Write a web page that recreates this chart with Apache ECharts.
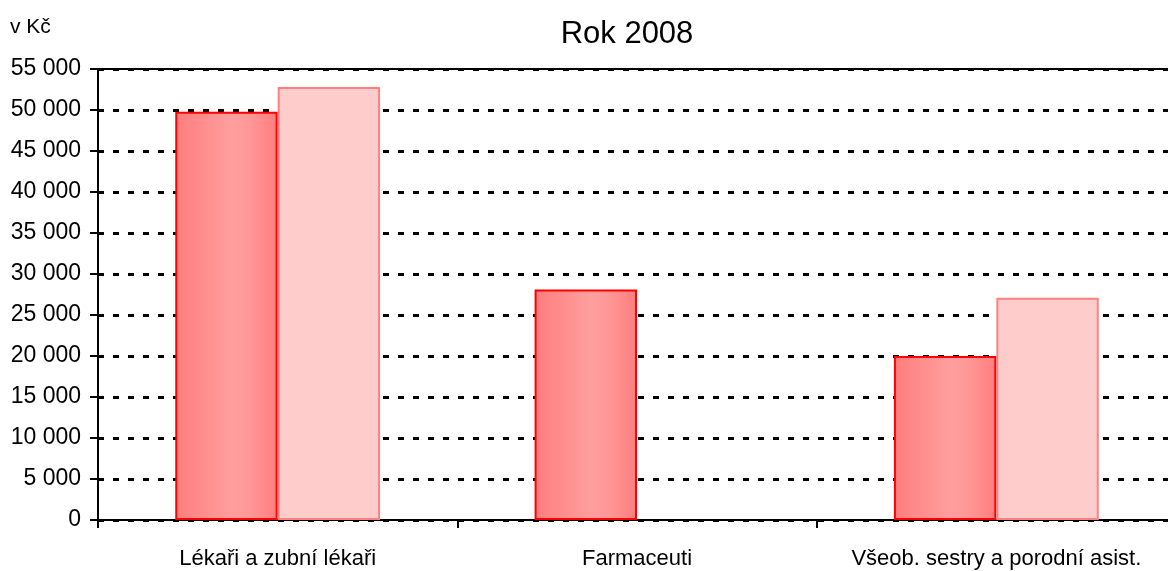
<!DOCTYPE html>
<html><head><meta charset="utf-8">
<script src="https://cdn.jsdelivr.net/npm/echarts@6/dist/echarts.min.js"></script>
<style>html,body{margin:0;padding:0;background:#fff}#c{width:1168px;height:571px}</style>
</head><body><div id="c"></div>
<script>
const categories = ['Lékaři a zubní lékaři', 'Farmaceuti', 'Všeob. sestry a porodní asist.'];
const series1 = [49800, 28100, 20000];
const series2 = [52800, null, 27100];
const yTicks = {min: 0, max: 55000, interval: 5000};
const titleText = 'Rok 2008';
const unitText = 'v Kč';

const font = '"Liberation Sans", Arial, sans-serif';
const chart = echarts.init(document.getElementById('c'), null, {renderer: 'canvas'});
const yCommon = {type: 'value', min: yTicks.min, max: yTicks.max, interval: yTicks.interval};
chart.setOption({
  animation: false,
  backgroundColor: '#fff',
  title: {text: titleText, left: 622, textAlign: 'center', top: 14,
    textStyle: {fontFamily: font, fontSize: 31, fontWeight: 'normal', color: '#000'}},
  graphic: [{type: 'text', left: 10, top: 17, style: {text: unitText, font: '21px ' + font, fill: '#000'}}],
  grid: {left: 98, width: 1078, top: 69, bottom: 51, containLabel: false, outerBoundsMode: 'none'},
  xAxis: [{
    type: 'category', data: categories,
    axisLine: {onZero: false, lineStyle: {color: '#000', width: 2}},
    axisTick: {show: true, length: 8, interval: 0, lineStyle: {color: '#000', width: 2}},
    axisLabel: {color: '#000', fontFamily: font, fontSize: 22, margin: 28, interval: 0, hideOverlap: false},
    splitLine: {show: false}
  }, {
    type: 'category', data: categories, position: 'top',
    axisLine: {show: true, onZero: false, lineStyle: {color: '#000', width: 2}},
    axisTick: {show: false}, axisLabel: {show: false}
  }],
  yAxis: [Object.assign({}, yCommon, {
    axisLine: {show: true, onZero: false, lineStyle: {color: '#000', width: 2}},
    axisTick: {show: true, length: 8, lineStyle: {color: '#000', width: 2}},
    axisLabel: {color: '#000', fontFamily: font, fontSize: 23, margin: 17,
      formatter: v => String(v).replace(/\B(?=(\d{3})+(?!\d))/g, ' ')},
    splitLine: {show: true, lineStyle: {color: '#000', width: 3, type: [6, 9]}}
  }), Object.assign({}, yCommon, {
    position: 'left', offset: 0,
    axisLine: {show: false, onZero: false},
    axisTick: {show: true, inside: true, length: 4, lineStyle: {color: '#000', width: 2}},
    axisLabel: {show: false},
    splitLine: {show: false}
  })],
  series: [{
    type: 'bar', data: series1, barGap: '0%', barCategoryGap: '43%',
    itemStyle: {
      color: new echarts.graphic.LinearGradient(0, 0, 1, 0, [
        {offset: 0, color: '#ff7d7d'}, {offset: 0.55, color: '#ff9e9e'},
        {offset: 0.7, color: '#ff9999'}, {offset: 1, color: '#ff7d7d'}]),
      borderColor: '#ff0000', borderWidth: 2
    }
  }, {
    type: 'bar', data: series2,
    itemStyle: {color: '#ffcccc', borderColor: '#ff8080', borderWidth: 2}
  }]
});
</script></body></html>
